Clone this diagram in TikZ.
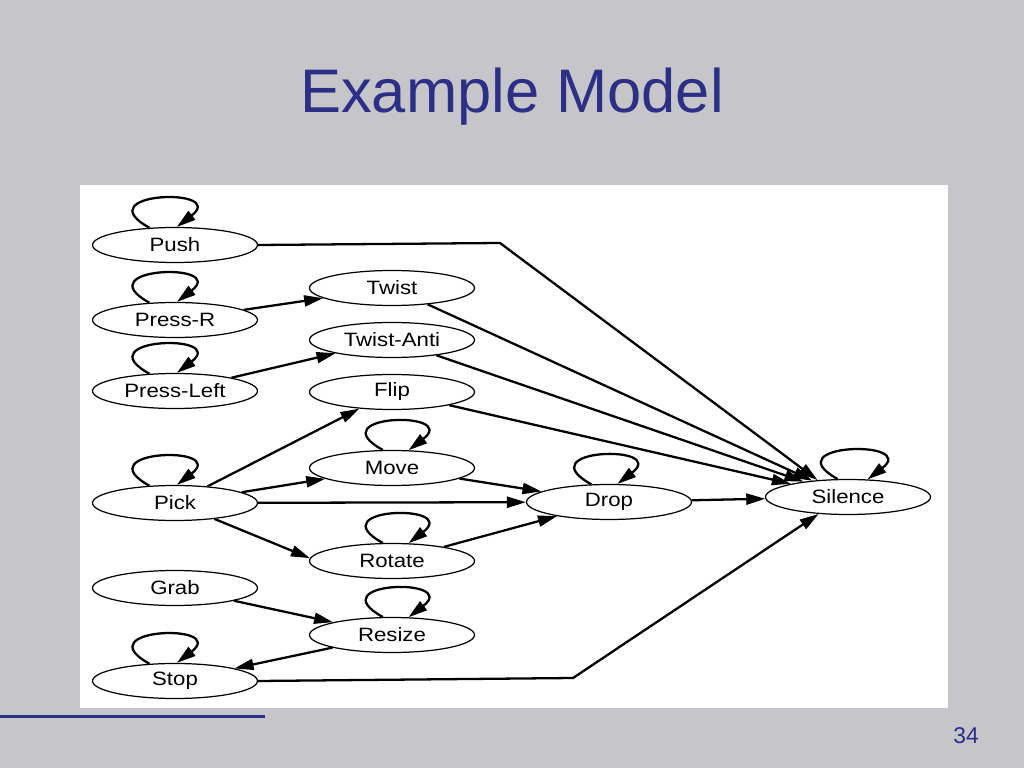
\documentclass[tikz,border=0pt]{standalone}
\usepackage{fontspec}
\setmainfont{Liberation Sans}
\newfontfamily\graphfont[FakeStretch=1.15]{Liberation Sans}
\usetikzlibrary{shapes.geometric,arrows.meta}
\definecolor{slidegrey}{RGB}{198,198,202}
\definecolor{navy}{RGB}{44,47,133}
\begin{document}
\begin{tikzpicture}[x=0.02cm,y=0.02cm]
      \tikzset{state/.style={draw, ellipse, line width=0.7pt, minimum width=3.3cm, minimum height=0.7cm, inner sep=1pt, fill=white, font=\graphfont\fontsize{11}{13}\selectfont},
               arr/.style={line width=1.3pt, -{Triangle[length=0.38cm,width=0.22cm]}}}
%% Slide
      \useasboundingbox (0,0) rectangle (1024,768);
      \fill[slidegrey] (0,0) rectangle (1024,768);
      \fill[white] (80,60) rectangle (948,583);
      \node[navy, anchor=base, font=\fontsize{35}{40}\selectfont] (title) at (512,655) {Example Model};
      \draw[navy, line width=0.06cm] (0,52) -- (265,52);
      \node[navy, font=\fontsize{13}{15}\selectfont] (page) at (966,32) {34};
%% Vertices
	%left column
      	\node[state] (push) at (175,523) {Push};
      	\node[state] (pressr) at (175,448) {Press-R};
      	\node[state] (pressleft) at (175,377) {Press-Left};
      	\node[state] (pick) at (175,265) {Pick};
      	\node[state] (grab) at (175,180) {Grab};
      	\node[state] (stop) at (175,87) {Stop};
	%middle column
      	\node[state] (twist) at (392,480) {Twist};
      	\node[state] (twistanti) at (392,428) {Twist-Anti};
      	\node[state] (flip) at (392,376) {Flip};
      	\node[state] (move) at (392,300) {Move};
      	\node[state] (rotate) at (392,207) {Rotate};
      	\node[state] (resize) at (392,133) {Resize};
	%right
      	\node[state] (drop) at (609,266) {Drop};
      	\node[state] (silence) at (848,271) {Silence};
      	\coordinate (pushbend) at (500,525);
      	\coordinate (stopbend) at (573,90);
%Edges
	%Self loops
		\draw [arr] (push.146) .. controls +(-65,36) and +(52,40) .. (push.84);
		\draw [arr] (pressr.146) .. controls +(-65,36) and +(52,40) .. (pressr.84);
		\draw [arr] (pressleft.146) .. controls +(-65,36) and +(52,40) .. (pressleft.84);
		\draw [arr] (pick.146) .. controls +(-65,36) and +(52,40) .. (pick.84);
		\draw [arr] (stop.146) .. controls +(-65,36) and +(52,40) .. (stop.84);
		\draw [arr] (move.117) .. controls +(-65,36) and +(52,40) .. (move.47);
		\draw [arr] (rotate.117) .. controls +(-65,36) and +(52,40) .. (rotate.47);
		\draw [arr] (resize.117) .. controls +(-65,36) and +(52,40) .. (resize.47);
		\draw [arr] (drop.135) .. controls +(-65,36) and +(52,40) .. (drop.65);
		\draw [arr] (silence.120) .. controls +(-65,36) and +(52,40) .. (silence.42);
	%Transitions
		\path [arr] (pressr) edge (twist);
		\path [arr] (pressleft) edge (twistanti);
		\path [arr] (pick) edge (flip);
		\path [arr] (pick) edge (move);
		\path [arr] (pick) edge (drop);
		\path [arr] (pick.-22) edge (rotate.178);
		\path [arr] (move) edge (drop);
		\path [arr] (rotate) edge (drop);
		\path [arr] (grab) edge (resize);
		\path [arr] (resize) edge (stop);
		\path [arr] (twist) edge (silence);
		\path [arr] (twistanti) edge (silence);
		\path [arr] (flip) edge (silence);
		\path [arr] (drop) edge (silence);
		\draw [arr] (push.east) -- (pushbend) -- (silence.151);
		\draw [arr] (stop.east) -- (stopbend) -- (silence.210);

\end{tikzpicture}
\end{document}
